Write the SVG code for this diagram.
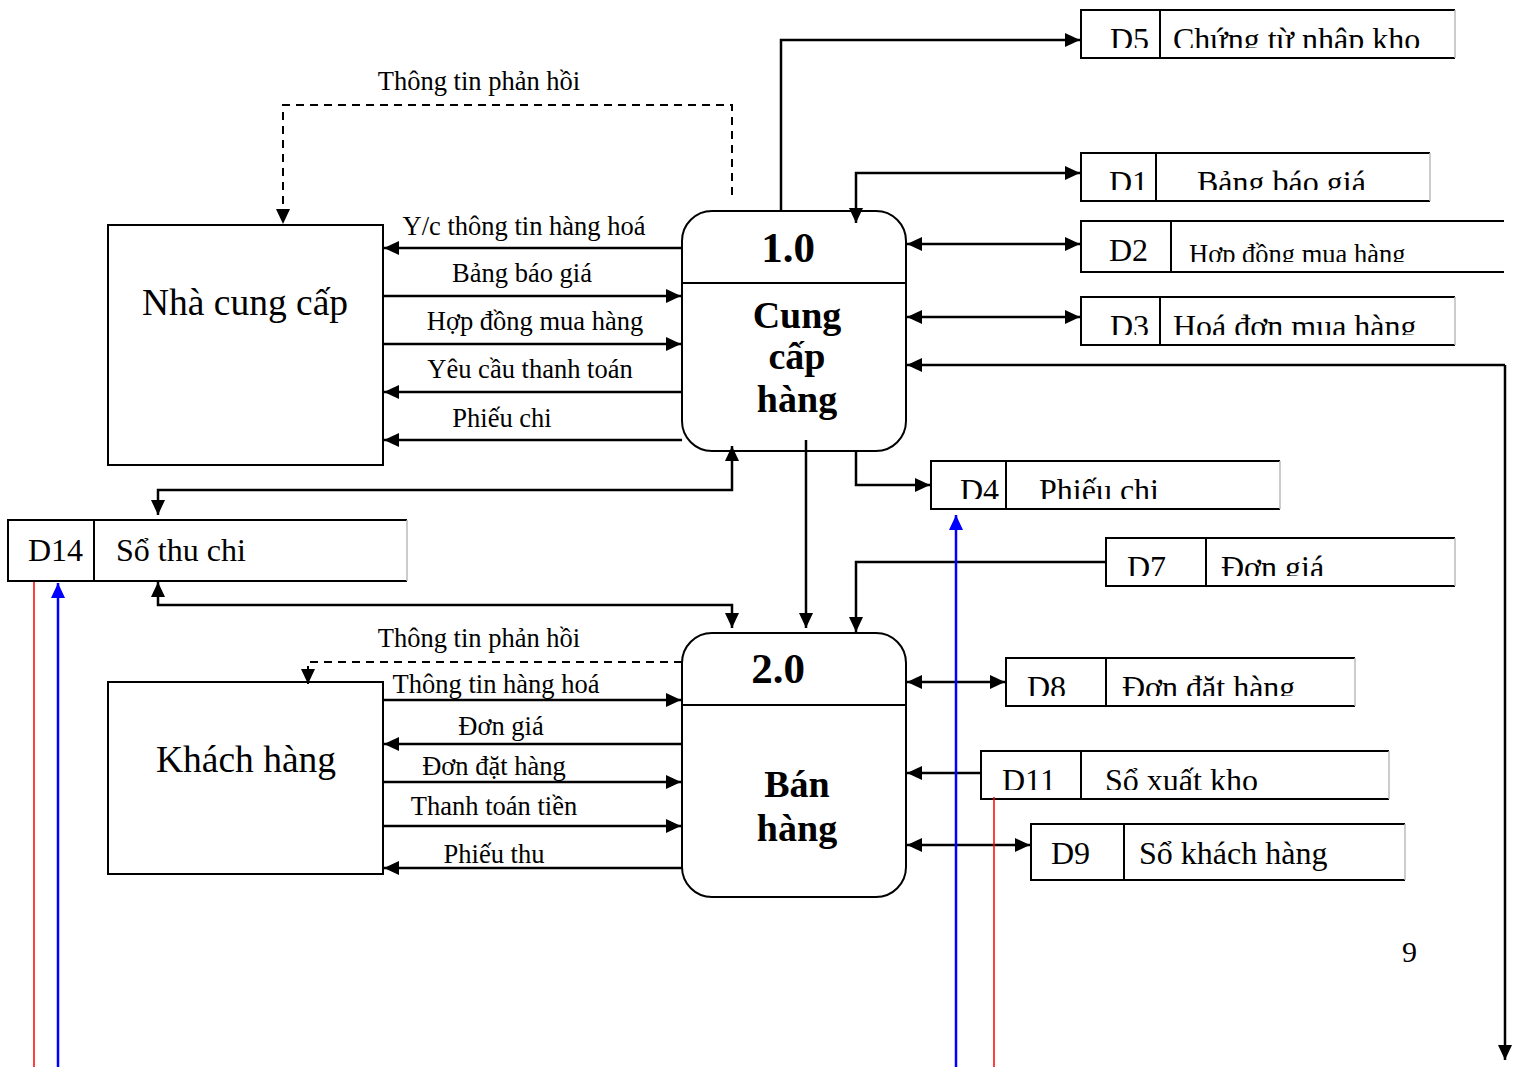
<svg xmlns="http://www.w3.org/2000/svg" width="1521" height="1067" viewBox="0 0 1521 1067">
<style>
.box{fill:#fff;stroke:#000;stroke-width:2}
.ln{fill:none;stroke:#000;stroke-width:2.5}
.dash{fill:none;stroke:#000;stroke-width:2;stroke-dasharray:8 6}
.t{font-family:"Liberation Serif","Times New Roman",serif;fill:#000}
.lab{font-size:26.5px;text-anchor:middle}
.ent{font-size:37.5px;text-anchor:middle}
.proc{font-size:38px;font-weight:bold;text-anchor:middle}
.num{font-size:43px;font-weight:bold;text-anchor:middle}
.ds{font-size:32px}
.dss{font-size:26.5px}
.open{stroke:#bbb;stroke-width:1.5}
</style>
<defs>
<marker id="a" markerUnits="userSpaceOnUse" markerWidth="16" markerHeight="14" refX="15" refY="7" orient="auto-start-reverse"><path d="M0,0 L15,7 L0,14 z" fill="#000"/></marker>
<marker id="ab" markerUnits="userSpaceOnUse" markerWidth="16" markerHeight="14" refX="15" refY="7" orient="auto"><path d="M0,0 L15,7 L0,14 z" fill="#0000ff"/></marker>
<clipPath id="c5"><rect x="1081" y="0" width="380" height="48"/></clipPath>
<clipPath id="c1"><rect x="1081" y="140" width="360" height="50"/></clipPath>
<clipPath id="c2"><rect x="1081" y="210" width="430" height="52"/></clipPath>
<clipPath id="c3"><rect x="1081" y="290" width="380" height="45"/></clipPath>
<clipPath id="c4"><rect x="931" y="450" width="360" height="49"/></clipPath>
<clipPath id="c7"><rect x="1106" y="530" width="360" height="46"/></clipPath>
<clipPath id="c8"><rect x="1006" y="650" width="360" height="46"/></clipPath>
<clipPath id="c11"><rect x="981" y="740" width="420" height="50"/></clipPath>
</defs>

<g id="nha-cung-cap">
<rect class="box" x="108" y="225" width="275" height="240"/>
<text class="t ent" x="245" y="315">Nhà cung cấp</text>
</g>

<g id="khach-hang">
<rect class="box" x="108" y="682" width="275" height="192"/>
<text class="t ent" x="246" y="772">Khách hàng</text>
</g>

<g id="p1">
<rect class="box" x="682" y="211" width="224" height="240" rx="30" ry="30"/>
<line class="box" x1="682" y1="283" x2="906" y2="283"/>
<text class="t num" x="788" y="262">1.0</text>
<text class="t proc" x="797" y="328">Cung</text>
<text class="t proc" x="797" y="369">cấp</text>
<text class="t proc" x="797" y="412">hàng</text>
</g>

<g id="p2">
<rect class="box" x="682" y="633" width="224" height="264" rx="30" ry="30"/>
<line class="box" x1="682" y1="705" x2="906" y2="705"/>
<text class="t num" x="778" y="683">2.0</text>
<text class="t proc" x="797" y="797">Bán</text>
<text class="t proc" x="797" y="841">hàng</text>
</g>

<g id="d5">
<path class="box" d="M1455,10 H1081 V58 H1455"/><line class="open" x1="1455" y1="10" x2="1455" y2="58"/>
<line class="box" x1="1160" y1="10" x2="1160" y2="58"/>
<g clip-path="url(#c5)"><text class="t ds" x="1110" y="50">D5</text><text class="t ds" x="1173" y="50">Chứng từ nhập kho</text></g>
</g>

<g id="d1">
<path class="box" d="M1430,153 H1081 V201 H1430"/><line class="open" x1="1430" y1="153" x2="1430" y2="201"/>
<line class="box" x1="1156" y1="153" x2="1156" y2="201"/>
<g clip-path="url(#c1)"><text class="t ds" x="1109" y="193">D1</text><text class="t ds" x="1197" y="193">Bảng báo giá</text></g>
</g>

<g id="d2">
<path class="box" d="M1504,221 H1081 V272 H1504"/>
<line class="box" x1="1171" y1="221" x2="1171" y2="272"/>
<g clip-path="url(#c2)"><text class="t ds" x="1109" y="261">D2</text><text class="t dss" x="1189" y="263">Hợp đồng mua hàng</text></g>
</g>

<g id="d3">
<path class="box" d="M1455,297 H1081 V345 H1455"/><line class="open" x1="1455" y1="297" x2="1455" y2="345"/>
<line class="box" x1="1160" y1="297" x2="1160" y2="345"/>
<g clip-path="url(#c3)"><text class="t ds" x="1110" y="337">D3</text><text class="t ds" x="1173" y="337">Hoá đơn mua hàng</text></g>
</g>

<g id="d4">
<path class="box" d="M1280,461 H931 V509 H1280"/><line class="open" x1="1280" y1="461" x2="1280" y2="509"/>
<line class="box" x1="1006" y1="461" x2="1006" y2="509"/>
<g clip-path="url(#c4)"><text class="t ds" x="960" y="501">D4</text><text class="t ds" x="1039" y="501">Phiếu chi</text></g>
</g>

<g id="d7">
<path class="box" d="M1455,538 H1106 V586 H1455"/><line class="open" x1="1455" y1="538" x2="1455" y2="586"/>
<line class="box" x1="1206" y1="538" x2="1206" y2="586"/>
<g clip-path="url(#c7)"><text class="t ds" x="1127" y="578">D7</text><text class="t ds" x="1221" y="578">Đơn giá</text></g>
</g>

<g id="d8">
<path class="box" d="M1355,658 H1006 V706 H1355"/><line class="open" x1="1355" y1="658" x2="1355" y2="706"/>
<line class="box" x1="1106" y1="658" x2="1106" y2="706"/>
<g clip-path="url(#c8)"><text class="t ds" x="1027" y="698">D8</text><text class="t ds" x="1122" y="698">Đơn đặt hàng</text></g>
</g>

<g id="d11">
<path class="box" d="M1389,751 H981 V799 H1389"/><line class="open" x1="1389" y1="751" x2="1389" y2="799"/>
<line class="box" x1="1081" y1="751" x2="1081" y2="799"/>
<g clip-path="url(#c11)"><text class="t ds" x="1002" y="791">D11</text><text class="t ds" x="1105" y="791">Sổ xuất kho</text></g>
</g>

<g id="d9">
<path class="box" d="M1405,824 H1031 V880 H1405"/><line class="open" x1="1405" y1="824" x2="1405" y2="880"/>
<line class="box" x1="1124" y1="824" x2="1124" y2="880"/>
<text class="t ds" x="1051" y="864">D9</text><text class="t ds" x="1139" y="864">Sổ khách hàng</text>
</g>

<g id="d14">
<path class="box" d="M407,520 H8 V581 H407"/><line class="open" x1="407" y1="520" x2="407" y2="581"/>
<line class="box" x1="94" y1="520" x2="94" y2="581"/>
<text class="t ds" x="28" y="561">D14</text><text class="t ds" x="116" y="561">Sổ thu chi</text>
</g>

<g id="connectors">
<line class="ln" x1="682" y1="248" x2="384" y2="248" marker-end="url(#a)"/>
<line class="ln" x1="383" y1="296" x2="681" y2="296" marker-end="url(#a)"/>
<line class="ln" x1="383" y1="344" x2="681" y2="344" marker-end="url(#a)"/>
<line class="ln" x1="682" y1="392" x2="384" y2="392" marker-end="url(#a)"/>
<line class="ln" x1="682" y1="440" x2="384" y2="440" marker-end="url(#a)"/>
<polyline class="dash" points="732,195 732,105 283,105 283,224" marker-end="url(#a)"/>
<line class="ln" x1="383" y1="700" x2="681" y2="700" marker-end="url(#a)"/>
<line class="ln" x1="682" y1="744" x2="384" y2="744" marker-end="url(#a)"/>
<line class="ln" x1="383" y1="782" x2="681" y2="782" marker-end="url(#a)"/>
<line class="ln" x1="383" y1="826" x2="681" y2="826" marker-end="url(#a)"/>
<line class="ln" x1="682" y1="868" x2="384" y2="868" marker-end="url(#a)"/>
<polyline class="dash" points="682,662 308,662 308,684" marker-end="url(#a)"/>
<polyline class="ln" points="781,211 781,40 1080,40" marker-end="url(#a)"/>
<polyline class="ln" points="1080,173 856,173 856,223" marker-start="url(#a)" marker-end="url(#a)"/>
<line class="ln" x1="907" y1="244" x2="1080" y2="244" marker-start="url(#a)" marker-end="url(#a)"/>
<line class="ln" x1="907" y1="317" x2="1080" y2="317" marker-start="url(#a)" marker-end="url(#a)"/>
<polyline class="ln" points="1505,365 907,365" marker-end="url(#a)"/>
<polyline class="ln" points="1505,365 1505,1060" marker-end="url(#a)"/>
<polyline class="ln" points="856,451 856,485 930,485" marker-end="url(#a)"/>
<line class="ln" x1="806" y1="440" x2="806" y2="628" marker-end="url(#a)"/>
<polyline class="ln" points="1106,562 856,562 856,632" marker-end="url(#a)"/>
<polyline class="ln" points="732,446 732,490 158,490 158,515" marker-start="url(#a)" marker-end="url(#a)"/>
<polyline class="ln" points="158,582 158,605 732,605 732,628" marker-start="url(#a)" marker-end="url(#a)"/>
<line class="ln" x1="907" y1="682" x2="1005" y2="682" marker-start="url(#a)" marker-end="url(#a)"/>
<line class="ln" x1="981" y1="773" x2="907" y2="773" marker-end="url(#a)"/>
<line class="ln" x1="907" y1="845" x2="1030" y2="845" marker-start="url(#a)" marker-end="url(#a)"/>
<line x1="34" y1="582" x2="34" y2="1067" stroke="#ff0000" stroke-width="1.5"/>
<line x1="58" y1="1067" x2="58" y2="583" stroke="#0000ff" stroke-width="2.5" marker-end="url(#ab)"/>
<line x1="956" y1="1067" x2="956" y2="515" stroke="#0000ff" stroke-width="2.5" marker-end="url(#ab)"/>
<line x1="994" y1="797" x2="994" y2="1067" stroke="#ff0000" stroke-width="1.5"/>
</g>

<g id="labels" class="t lab">
<text x="479" y="90">Thông tin phản hồi</text>
<text x="524" y="235">Y/c thông tin hàng hoá</text>
<text x="522" y="282">Bảng báo giá</text>
<text x="535" y="330">Hợp đồng mua hàng</text>
<text x="530" y="378">Yêu cầu thanh toán</text>
<text x="502" y="427">Phiếu chi</text>
<text x="479" y="647">Thông tin phản hồi</text>
<text x="496" y="693">Thông tin hàng hoá</text>
<text x="501" y="735">Đơn giá</text>
<text x="494" y="775">Đơn đặt hàng</text>
<text x="494" y="815">Thanh toán tiền</text>
<text x="494" y="863">Phiếu thu</text>
</g>

<text class="t" x="1402" y="962" font-size="30">9</text>
</svg>
